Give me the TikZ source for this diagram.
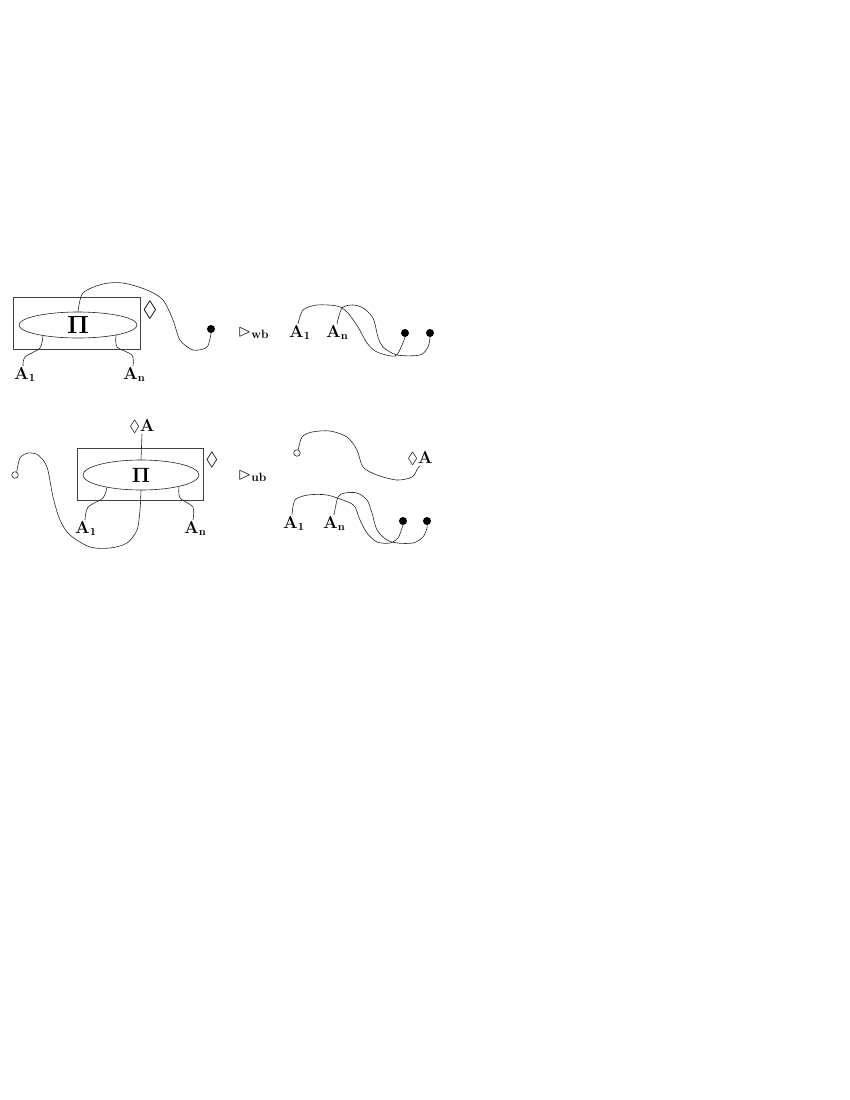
\documentclass[tikz,border=0pt]{standalone}
\usepackage{amssymb}
\usetikzlibrary{shapes.geometric}
\tikzset{
  wire/.style={line width=0.6pt, draw=black!85},
  boxshape/.style={draw=black!75, line width=0.6pt, rectangle, inner sep=0pt},
  oval/.style={draw=black!85, line width=0.6pt, ellipse, inner sep=0pt},
  lbl/.style={inner sep=1pt, anchor=base west, font=\fontsize{16}{18}\selectfont\boldmath},
  rel/.style={inner sep=1pt, anchor=base west, font=\fontsize{17}{19}\selectfont\boldmath},
  blob/.style={circle, fill=black, inner sep=0pt, minimum size=8pt},
  ring/.style={circle, draw=black!85, line width=0.6pt, inner sep=0pt, minimum size=6.5pt},
}
\begin{document}
\begin{tikzpicture}[x=1pt,y=-1pt]
\useasboundingbox (0,0) rectangle (850,1100);

% ---------- top left ----------
\node[boxshape, minimum width=127pt, minimum height=52pt] (box1) at (76.5,323) {};
\node[oval, minimum width=118pt, minimum height=26pt, font=\fontsize{23}{26}\selectfont\boldmath] (ell1) at (78,325) {$\Pi$};
\node[inner sep=0pt, font=\fontsize{22}{24}\selectfont] (dm1) at (150,310) {$\lozenge$};
\node[blob] (dot1) at (211,329) {};
\node[lbl] (a11) at (13,379) {$\mathrm{A}_{1}$};
\node[lbl] (an1) at (122,379) {$\mathrm{A}_{\mathrm{n}}$};

\draw[wire] plot[smooth, tension=0.5] coordinates {(ell1.north) (83,293) (103,284) (123,283) (147,290) (163,300) (173,320) (180,340) (193,350) (207,347) (dot1.south)};
\draw[wire] plot[smooth, tension=0.5] coordinates {(ell1.197) (40,348) (25,357) ([xshift=10pt]a11.north west)};
\draw[wire] plot[smooth, tension=0.5] coordinates {(ell1.345) (117,347) (132,355) ([xshift=11pt]an1.north west)};

% ---------- top right ----------
\node[rel] (wb) at (237,336) {$\rhd_{\mathrm{wb}}$};
\node[lbl] (a12) at (288,337) {$\mathrm{A}_{1}$};
\node[lbl] (an2) at (325,337) {$\mathrm{A}_{\mathrm{n}}$};
\node[blob] (dot2) at (405,333) {};
\node[blob] (dot3) at (430,333) {};

\draw[wire] plot[smooth, tension=0.5] coordinates {([xshift=10pt]a12.north west) (303,310) (317,305) (337,306) (347,312) (358,327) (367,343) (377,352) (395,356) (402,345) (dot2.south)};
\draw[wire] plot[smooth, tension=0.5] coordinates {([xshift=12pt]an2.north west) (342,308) (353,305) (363,308) (373,318) (378,337) (383,347) (397,355) (420,355) (428,347) (dot3.south)};

% ---------- bottom left ----------
\node[boxshape, minimum width=126pt, minimum height=52pt] (box2) at (140,474) {};
\node[oval, minimum width=116pt, minimum height=30pt, font=\fontsize{20}{23}\selectfont\boldmath] (ell2) at (141,475) {$\Pi$};
\node[inner sep=1pt, anchor=south, font=\fontsize{16}{18}\selectfont\boldmath] (da1) at (142,434) {$\lozenge\mathrm{A}$};
\node[inner sep=0pt, font=\fontsize{19}{21}\selectfont] (dm2) at (212,460) {$\lozenge$};
\node[ring] (c1) at (15,475) {};
\node[lbl] (a13) at (74,533) {$\mathrm{A}_{1}$};
\node[lbl] (an3) at (183,533) {$\mathrm{A}_{\mathrm{n}}$};

\draw[wire] (da1.south) -- (ell2.north);
\draw[wire] plot[smooth, tension=0.5] coordinates {(c1.60) (20,458) (28,453) (38,455) (47,467) (53,497) (60,520) (70,535) (90,547) (110,548) (127,543) (137,530) (140,510) (ell2.south)};
\draw[wire] plot[smooth, tension=0.5] coordinates {(ell2.200) (103,498) (88,507) ([xshift=11pt]a13.north west)};
\draw[wire] plot[smooth, tension=0.5] coordinates {(ell2.343) (180,498) (193,507) ([xshift=10pt]an3.north west)};

% ---------- bottom right ----------
\node[rel] (ub) at (237,479) {$\rhd_{\mathrm{ub}}$};
\node[ring] (c2) at (297,453) {};
\node[inner sep=1pt, anchor=base, font=\fontsize{16}{18}\selectfont\boldmath] (da2) at (420,463) {$\lozenge\mathrm{A}$};
\node[lbl] (a14) at (282,528) {$\mathrm{A}_{1}$};
\node[lbl] (an4) at (322,528) {$\mathrm{A}_{\mathrm{n}}$};
\node[blob] (dot4) at (403,521) {};
\node[blob] (dot5) at (427,521) {};

\draw[wire] plot[smooth, tension=0.5] coordinates {(c2.70) (302,437) (312,432) (330,431) (347,437) (357,450) (363,467) (377,475) (397,480) (412,477) (418,468) (da2.south)};
\draw[wire] plot[smooth, tension=0.5] coordinates {([xshift=10pt]a14.north west) (295,500) (308,495) (327,495) (348,502) (355,507) (360,520) (367,533) (377,542) (390,543) (398,538) (402,528) (dot4.south)};
\draw[wire] plot[smooth, tension=0.5] coordinates {([xshift=12pt]an4.north west) (338,497) (345,493) (357,493) (367,500) (372,513) (377,530) (387,540) (397,543) (413,543) (423,537) (427,528) (dot5.south)};
\end{tikzpicture}
\end{document}
